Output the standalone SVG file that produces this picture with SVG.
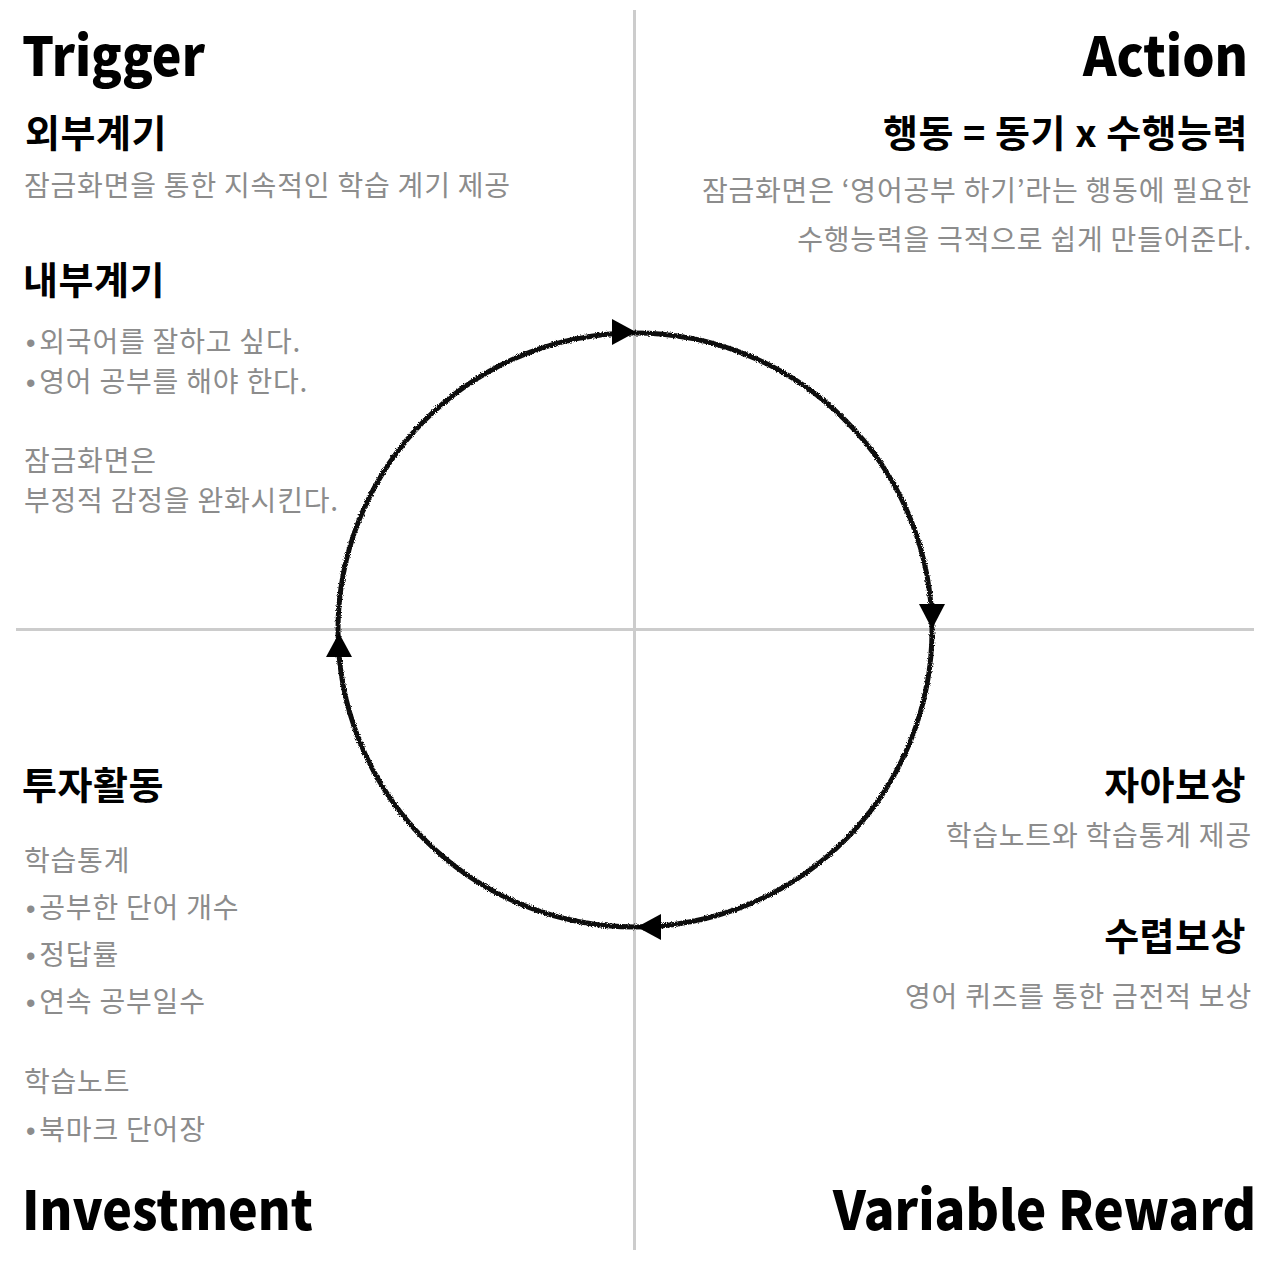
<svg xmlns="http://www.w3.org/2000/svg" width="1280" height="1264" viewBox="0 0 1280 1264">
  <defs>
    <filter id="rough" x="-5%" y="-5%" width="110%" height="110%">
      <feTurbulence type="fractalNoise" baseFrequency="1.1" numOctaves="2" seed="3" result="n"/>
      <feDisplacementMap in="SourceGraphic" in2="n" scale="3.5" xChannelSelector="R" yChannelSelector="G"/>
    </filter>
  </defs>
  <style>
    .axis { stroke: #cccccc; stroke-width: 3; fill: none; }
    .cycle { stroke: #111111; stroke-width: 5; fill: none; }
    .head { fill: #000000; }
    .title { font-family: "Noto Sans CJK KR", "Liberation Sans", sans-serif; font-weight: 900; font-size: 54px; fill: #000; }
    .sub { font-family: "Noto Sans CJK KR", "Liberation Sans", sans-serif; font-weight: 700; font-size: 38px; letter-spacing: 0.5px; fill: #000; }
    .body { font-family: "Noto Sans CJK KR", "Liberation Sans", sans-serif; font-weight: 400; font-size: 28px; letter-spacing: 0.8px; fill: #8c8c8c; }
    .bul { font-family: "Liberation Sans", sans-serif; font-size: 27px; }
    .r { text-anchor: end; }
  </style>
  <rect width="1280" height="1264" fill="#ffffff"/>

  <g id="axes">
    <line class="axis" x1="634.5" y1="10" x2="634.5" y2="1250"/>
    <line class="axis" x1="16" y1="629.5" x2="1254" y2="629.5"/>
  </g>

  <g id="connectors">
    <circle class="cycle" cx="635" cy="630" r="297" filter="url(#rough)"/>
    <polygon class="head" points="636,332 612,319 612,345"/>
    <polygon class="head" points="932,629 919,604 945,604"/>
    <polygon class="head" points="637,927 661,914 661,940"/>
    <polygon class="head" points="339,633 326,657 352,657"/>
  </g>

  <g id="trigger">
    <text class="title" x="22" y="76" textLength="183" lengthAdjust="spacingAndGlyphs">Trigger</text>
    <text class="sub" x="25" y="147">외부계기</text>
    <text class="body" x="24" y="196">잠금화면을 통한 지속적인 학습 계기 제공</text>
    <text class="sub" x="23" y="294">내부계기</text>
    <text class="body" x="26" y="352"><tspan class="bul">•</tspan><tspan dx="3">외국어를 잘하고 싶다.</tspan></text>
    <text class="body" x="26" y="392"><tspan class="bul">•</tspan><tspan dx="3">영어 공부를 해야 한다.</tspan></text>
    <text class="body" x="24" y="471">잠금화면은</text>
    <text class="body" x="24" y="511">부정적 감정을 완화시킨다.</text>
  </g>

  <g id="action">
    <text class="title r" x="1248" y="76" textLength="165" lengthAdjust="spacingAndGlyphs">Action</text>
    <text class="sub r" x="1248" y="147">행동 = 동기 x 수행능력</text>
    <text class="body r" x="1252" y="201">잠금화면은 ‘영어공부 하기’라는 행동에 필요한</text>
    <text class="body r" x="1252" y="250">수행능력을 극적으로 쉽게 만들어준다.</text>
  </g>

  <g id="variable-reward">
    <text class="sub r" x="1246" y="799">자아보상</text>
    <text class="body r" x="1252" y="846">학습노트와 학습통계 제공</text>
    <text class="sub r" x="1246" y="950">수렵보상</text>
    <text class="body r" x="1252" y="1007">영어 퀴즈를 통한 금전적 보상</text>
    <text class="title r" x="1256" y="1230" textLength="423" lengthAdjust="spacingAndGlyphs">Variable Reward</text>
  </g>

  <g id="investment">
    <text class="sub" x="22" y="799">투자활동</text>
    <text class="body" x="24" y="871">학습통계</text>
    <text class="body" x="26" y="918"><tspan class="bul">•</tspan><tspan dx="3">공부한 단어 개수</tspan></text>
    <text class="body" x="26" y="965"><tspan class="bul">•</tspan><tspan dx="3">정답률</tspan></text>
    <text class="body" x="26" y="1012"><tspan class="bul">•</tspan><tspan dx="3">연속 공부일수</tspan></text>
    <text class="body" x="24" y="1092">학습노트</text>
    <text class="body" x="26" y="1140"><tspan class="bul">•</tspan><tspan dx="3">북마크 단어장</tspan></text>
    <text class="title" x="22" y="1230" textLength="291" lengthAdjust="spacingAndGlyphs">Investment</text>
  </g>
</svg>
